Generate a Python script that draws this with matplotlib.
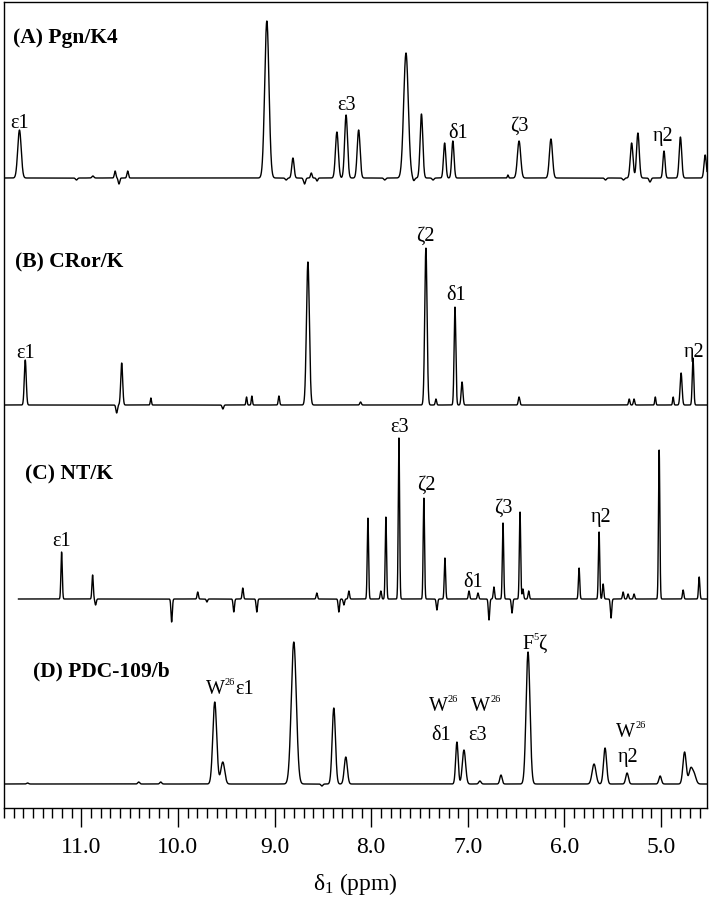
import numpy as np
import matplotlib.pyplot as plt
from matplotlib.ticker import MultipleLocator, FormatStrFormatter

plt.rcParams["font.family"] = ["Liberation Serif", "DejaVu Serif"]
plt.rcParams["mathtext.fontset"] = "custom"
plt.rcParams["mathtext.rm"] = "Liberation Serif"
plt.rcParams["mathtext.it"] = "Liberation Serif:italic"

# peaks: shift (ppm), height (above own baseline), width (sigma, ppm)
a_shift = [11.64, 11.05, 10.88, 10.65, 10.61, 10.52, 9.08, 8.88, 8.81, 8.69, 8.62, 8.56,
           8.355, 8.26, 8.13, 7.86, 7.64, 7.56, 7.48, 7.36, 7.24, 7.155, 6.585, 6.47,
           6.14, 5.575, 5.39, 5.305, 5.24, 5.115, 4.97, 4.80, 4.544]
a_height = [48, -2, 2, 7, -6, 7, 157, -2, 20, -6, 5, -3,
            46, 63, 48, -2, 125, -3, 64, -2, 35, 37, 3, 37,
            39, -2, -2, 35, 45, -4, 27, 41, 23]
a_width = [0.018, 0.01, 0.01, 0.008, 0.008, 0.008, 0.022, 0.01, 0.012, 0.01, 0.008, 0.008,
           0.015, 0.015, 0.015, 0.01, 0.024, 0.01, 0.014, 0.01, 0.012, 0.012, 0.006, 0.017,
           0.016, 0.01, 0.01, 0.014, 0.014, 0.01, 0.011, 0.013, 0.012]

b_shift = [11.58, 10.634, 10.582, 10.28, 9.535, 9.29, 9.235, 8.955, 8.655, 8.11, 7.434,
           7.33, 7.133, 7.06, 6.47, 5.33, 5.28, 5.06, 4.875, 4.793, 4.67]
b_height = [45, -8, 42, 7, -4, 8, 9, 9, 143, 3, 157,
            6, 98, 23, 8, 6, 6, 8, 8, 32, 47]
b_width = [0.01, 0.008, 0.01, 0.006, 0.008, 0.006, 0.006, 0.007, 0.015, 0.008, 0.012,
           0.007, 0.009, 0.009, 0.008, 0.007, 0.007, 0.006, 0.006, 0.01, 0.008]

c_shift = [11.204, 10.883, 10.852, 10.065, 9.795, 9.70, 9.422, 9.329, 9.184, 8.563,
           8.335, 8.283, 8.231, 8.034, 7.90, 7.848, 7.713, 7.455, 7.32, 7.237,
           6.988, 6.895, 6.781, 6.73, 6.636, 6.543, 6.46, 6.43, 6.37,
           5.849, 5.642, 5.60, 5.518, 5.393, 5.342, 5.28, 5.02, 4.772, 4.606]
c_height = [47, 24, -6, -23, 7, -3, -13, 11, -13, 6,
            -13, -6, 8, 81, 8, 82, 161, 101, -11, 41,
            8, 6, -21, 12, 76, -14, 87, 10, 8,
            31, 67, 15, -19, 7, 5, 5, 149, 9, 22]
c_width = [0.007] * len(c_shift)

d_shift = [11.556, 10.406, 10.178, 9.619, 9.536, 8.801, 8.51, 8.387, 8.263, 7.113, 7.04,
           6.875, 6.657, 6.377, 5.694, 5.58, 5.352, 5.01, 4.757, 4.695, 4.66]
d_height = [1, 2, 2, 82, 22, 142, -2, 76, 27, 42, 34,
            3, 9, 132, 20, 36, 11, 8, 32, 14, 10]
d_width = [0.01, 0.01, 0.01, 0.02, 0.02, 0.026, 0.01, 0.017, 0.016, 0.013, 0.017,
           0.012, 0.012, 0.02, 0.02, 0.016, 0.014, 0.013, 0.017, 0.018, 0.02]

panel_names = ["(A) Pgn/K4", "(B) CRor/K", "(C) NT/K", "(D) PDC-109/b"]
baselines = [630, 403, 209, 24]
spectrum_start = [11.80, 11.80, 11.65, 11.80]

XMIN, XMAX = 11.80, 4.525


def spectrum(ppm, shifts, heights, widths):
    y = np.zeros_like(ppm)
    for s, h, w in zip(shifts, heights, widths):
        y += h * np.exp(-0.5 * ((ppm - s) / w) ** 2)
    return y


fig = plt.figure(figsize=(7.16, 9.0), dpi=100)
ax = fig.add_axes([4 / 716, 92 / 900, 703 / 716, 806 / 900])

peaks = [(a_shift, a_height, a_width), (b_shift, b_height, b_width),
         (c_shift, c_height, c_width), (d_shift, d_height, d_width)]
for (s, h, w), base, start in zip(peaks, baselines, spectrum_start):
    ppm = np.linspace(start, XMAX, 8000)
    ax.plot(ppm, base + spectrum(ppm, s, h, w), color="black", lw=1.0)

# panel titles
title_pos = [(11.711, 765), (11.69, 541), (11.587, 329), (11.504, 132)]
for name, (x, y) in zip(panel_names, title_pos):
    ax.text(x, y, name, fontsize=15.5, fontweight="bold", ha="left", va="baseline")

# peak assignments
labels = [
    ("ε1", 11.64, 680), ("ε3", 8.252, 698), ("δ1", 7.10, 670), ("ζ3", 6.47, 677), ("η2", 4.979, 667),
    ("ε1", 11.577, 450), ("ζ2", 7.444, 567), ("δ1", 7.123, 508), ("η2", 4.658, 451),
    ("ε1", 11.204, 262), ("ε3", 7.703, 376), ("ζ2", 7.424, 318), ("δ1", 6.947, 221),
    ("ζ3", 6.636, 295), ("η2", 5.621, 286),
    ("δ1", 7.278, 68), ("ε3", 6.895, 68), ("η2", 5.341, 46),
]
for txt, x, y in labels:
    ax.text(x, y, txt, fontsize=14.5, ha="center", va="baseline")

# residue labels with small superscripts: (letter, superscript, rest, left x, y)
res_labels = [
    ("W", "26", "ε1", 9.71, 114),
    ("W", "26", "", 7.405, 97),
    ("W", "26", "", 6.965, 97),
    ("F", "5", "ζ", 6.44, 159),
    ("W", "26", "", 5.465, 71),
]
for main, sup, rest, x, y in res_labels:
    t = ax.annotate(main, (x, y), fontsize=14.5, ha="left", va="baseline")
    s = ax.annotate(sup, (1.0, 0.62), xycoords=t, fontsize=7.5, ha="left", va="bottom")
    if rest:
        ax.annotate(rest, (1.0, 0.0), xycoords=(s, t), fontsize=14.5, ha="left", va="bottom")

ax.set_xlim(XMIN, XMAX)
ax.set_ylim(0, 806)
ax.set_yticks([])
ax.xaxis.set_major_locator(MultipleLocator(1.0))
ax.xaxis.set_minor_locator(MultipleLocator(0.1))
ax.xaxis.set_major_formatter(FormatStrFormatter("%.1f"))
ax.tick_params(axis="x", which="major", direction="out", length=14, width=1.0,
               labelsize=17, pad=7)
ax.tick_params(axis="x", which="minor", direction="out", length=7, width=1.0)
for sp in ax.spines.values():
    sp.set_linewidth(1.0)
ax.set_xlabel("δ$_1$ (ppm)", fontsize=17, labelpad=9)

fig.savefig("out.png", dpi=100)
